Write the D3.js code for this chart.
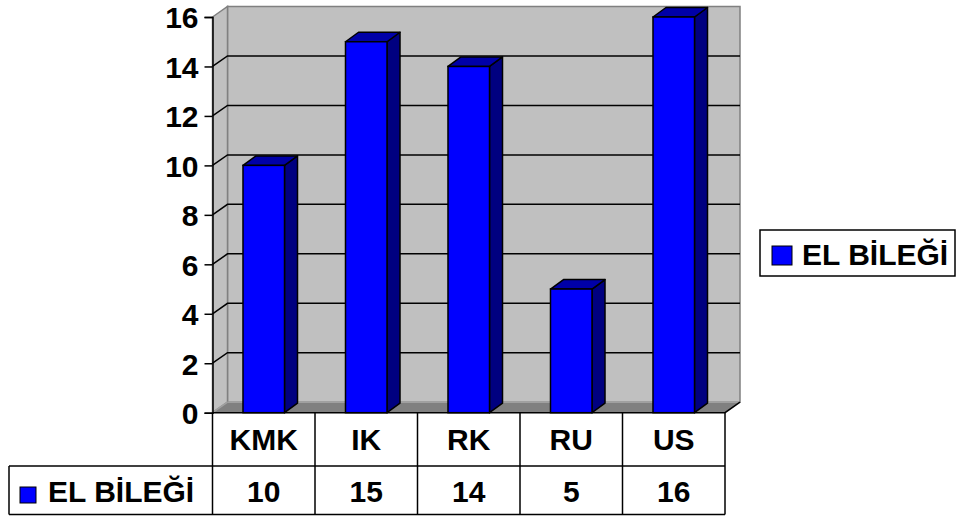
<!DOCTYPE html>
<html>
<head>
<meta charset="utf-8">
<script src="https://cdn.jsdelivr.net/npm/d3@7"></script>
<style>
  html, body { margin: 0; padding: 0; background: #ffffff; }
  svg { display: block; }
  text { font-family: "Liberation Sans", Arial, sans-serif; font-weight: bold; fill: #000; }
</style>
</head>
<body>
<svg id="chart" width="958" height="520"></svg>
<script>
// Wrist (EL BİLEĞİ) counts per group
const categories = ["KMK", "IK", "RK", "RU", "US"];
const values = [10, 15, 14, 5, 16];
const seriesName = "EL BİLEĞİ";
const yTicks = [0, 2, 4, 6, 8, 10, 12, 14, 16];

const svg = d3.select("#chart");
const fontSize = 30;

// front plane of the 3D plot area
const plotLeft = 212.5, plotRight = 725;
const y = d3.scaleLinear().domain([0, 16]).range([412.7, 17]);
const x = d3.scaleBand().domain(categories).range([plotLeft, plotRight]).paddingInner(0.595).paddingOuter(0.2975);

// depth offsets of the walls and of the columns
const dx = 15, dy = -10.5;
const bdx = 13, bdy = -9.5;

const colFront = "#0000ff", colSide = "#000080", colTop = "#0000a8";
const wall = "#c0c0c0", wallEdge = "#808080", floorFill = "#808080";

const pts = a => a.map(p => p.join(",")).join(" ");

// back wall
svg.append("polygon")
  .attr("points", pts([[plotLeft + dx, y(16) + dy], [plotRight + dx, y(16) + dy], [plotRight + dx, y(0) + dy], [plotLeft + dx, y(0) + dy]]))
  .attr("fill", wall).attr("stroke", wallEdge).attr("stroke-width", 1.5);

// side wall
svg.append("polygon")
  .attr("points", pts([[plotLeft, y(16)], [plotLeft + dx, y(16) + dy], [plotLeft + dx, y(0) + dy], [plotLeft, y(0)]]))
  .attr("fill", wall).attr("stroke", wallEdge).attr("stroke-width", 1.5);

// floor
svg.append("polygon")
  .attr("points", pts([[plotLeft, y(0)], [plotLeft + dx, y(0) + dy], [plotRight + dx, y(0) + dy], [plotRight, y(0)]]))
  .attr("fill", floorFill).attr("stroke", "none");
svg.append("line")
  .attr("x1", plotLeft + dx).attr("x2", plotRight + dx)
  .attr("y1", y(0) + dy).attr("y2", y(0) + dy)
  .attr("stroke", "#a0a0a0").attr("stroke-width", 1.5);
svg.append("line")
  .attr("x1", plotLeft).attr("y1", y(0)).attr("x2", plotLeft + dx).attr("y2", y(0) + dy)
  .attr("stroke", "#a0a0a0").attr("stroke-width", 1.5);
svg.append("polyline")
  .attr("points", pts([[plotLeft, y(0)], [plotRight, y(0)], [plotRight + dx, y(0) + dy]]))
  .attr("fill", "none").attr("stroke", "#000").attr("stroke-width", 1.5);

// gridlines: across the side wall, then along the back wall
const grid = yTicks.filter(v => v > 0 && v < 16);
svg.append("g").selectAll("polyline").data(grid).join("polyline")
  .attr("points", v => pts([[plotLeft, y(v)], [plotLeft + dx, y(v) + dy], [plotRight + dx, y(v) + dy]]))
  .attr("fill", "none").attr("stroke", "#000").attr("stroke-width", 1.5);

// columns
const bars = svg.append("g").selectAll("g").data(categories.map((c, i) => ({ c, v: values[i] }))).join("g");
bars.append("polygon") // side face
  .attr("points", d => {
    const x1 = x(d.c) + x.bandwidth();
    return pts([[x1, y(d.v)], [x1 + bdx, y(d.v) + bdy], [x1 + bdx, y(0) + bdy], [x1, y(0)]]);
  })
  .attr("fill", colSide).attr("stroke", "#000").attr("stroke-width", 1.5).attr("stroke-linejoin", "round");
bars.append("polygon") // top face
  .attr("points", d => {
    const x0 = x(d.c), x1 = x0 + x.bandwidth();
    return pts([[x0, y(d.v)], [x0 + bdx, y(d.v) + bdy], [x1 + bdx, y(d.v) + bdy], [x1, y(d.v)]]);
  })
  .attr("fill", colTop).attr("stroke", "#000").attr("stroke-width", 1.5).attr("stroke-linejoin", "round");
bars.append("rect") // front face
  .attr("x", d => x(d.c)).attr("y", d => y(d.v))
  .attr("width", x.bandwidth()).attr("height", d => y(0) - y(d.v))
  .attr("fill", colFront).attr("stroke", "#000").attr("stroke-width", 1.5);

// value axis
const axis = svg.append("g").attr("transform", `translate(${plotLeft},0)`)
  .call(d3.axisLeft(y).tickValues(yTicks).tickSize(8).tickPadding(6).tickFormat(d3.format("d")));
axis.select(".domain").attr("stroke", "#000").attr("stroke-width", 1.5);
axis.selectAll(".tick line").attr("stroke", "#000").attr("stroke-width", 1.5);
axis.selectAll(".tick text")
  .attr("font-size", fontSize).attr("font-family", "Liberation Sans, Arial, sans-serif")
  .attr("font-weight", "bold").attr("fill", "#000").attr("dy", "0.36em");

// data table below the plot
const tLeft = 9, rowTop = y(0), rowMid = 466, rowBot = 514.5;
const table = svg.append("g").attr("stroke", "#000").attr("stroke-width", 1.5);
const colEdges = [plotLeft].concat(categories.map((c, i) => plotLeft + (i + 1) * x.step()));
table.selectAll("line.v").data(colEdges).join("line")
  .attr("x1", d => d).attr("x2", d => d).attr("y1", rowTop).attr("y2", rowBot);
table.append("line").attr("x1", tLeft).attr("x2", plotRight).attr("y1", rowMid).attr("y2", rowMid);
table.append("line").attr("x1", tLeft).attr("x2", plotRight).attr("y1", rowBot).attr("y2", rowBot);
table.append("line").attr("x1", tLeft).attr("x2", tLeft).attr("y1", rowMid).attr("y2", rowBot);

const cellCenter = i => plotLeft + (i + 0.5) * x.step();
svg.append("g").selectAll("text").data(categories).join("text")
  .attr("x", (d, i) => cellCenter(i)).attr("y", 450)
  .attr("text-anchor", "middle").attr("font-size", fontSize).text(d => d);
svg.append("g").selectAll("text").data(values).join("text")
  .attr("x", (d, i) => cellCenter(i)).attr("y", 502)
  .attr("text-anchor", "middle").attr("font-size", fontSize).text(d => d);

// series key in the table
svg.append("rect").attr("x", 20).attr("y", 487).attr("width", 16).attr("height", 16)
  .attr("fill", colFront).attr("stroke", "#000").attr("stroke-width", 1);
svg.append("text").attr("x", 48).attr("y", 502).attr("font-size", fontSize).text(seriesName);

// legend
svg.append("rect").attr("x", 760).attr("y", 230).attr("width", 195).attr("height", 46)
  .attr("fill", "#fff").attr("stroke", "#000").attr("stroke-width", 1.5);
svg.append("rect").attr("x", 772).attr("y", 246).attr("width", 20).attr("height", 19)
  .attr("fill", colFront).attr("stroke", "#000").attr("stroke-width", 1);
svg.append("text").attr("x", 802).attr("y", 265).attr("font-size", fontSize).text(seriesName);
</script>
</body>
</html>
